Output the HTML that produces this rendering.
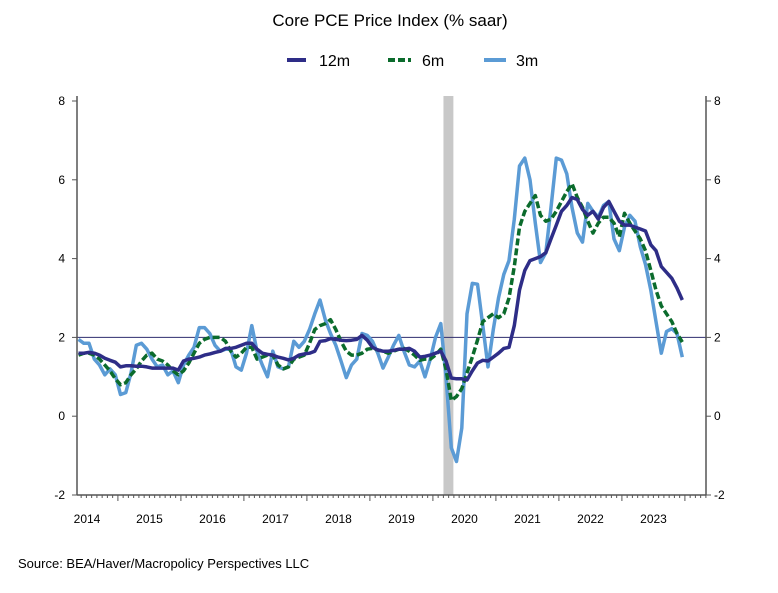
<!DOCTYPE html>
<html><head><meta charset="utf-8"><style>
body{margin:0;background:#fff;}
svg{display:block;font-family:"Liberation Sans",sans-serif;}
</style></head><body>
<svg id="c" width="778" height="593" viewBox="0 0 778 593">
<text x="390" y="26" text-anchor="middle" font-size="17" fill="#000">Core PCE Price Index (% saar)</text>
<g>
<g><line x1="287" y1="60" x2="306" y2="60" stroke="#2e2d87" stroke-width="4"/><text x="319" y="66" font-size="16">12m</text></g>
<g><line x1="388" y1="60" x2="411" y2="60" stroke="#0b6b2c" stroke-width="4" stroke-dasharray="7,3"/><text x="422" y="66" font-size="16">6m</text></g>
<g><line x1="484" y1="60" x2="506" y2="60" stroke="#5b9bd5" stroke-width="4"/><text x="516" y="66" font-size="16">3m</text></g>
</g>
<g id="plot"></g>
<text x="18" y="568" font-size="13" fill="#000">Source:  BEA/Haver/Macropolicy Perspectives LLC</text>
</svg>
<script>
const startMonth = 4; // months since Jan 2014 for first point (May 2014)
const yTicks = [-2, 0, 2, 4, 6, 8];
const years = ["2014","2015","2016","2017","2018","2019","2020","2021","2022","2023"];
const recession = [73.8, 75.5];
const s12 = [1.6,1.6,1.62,1.6,1.55,1.47,1.42,1.37,1.25,1.28,1.28,1.27,1.27,1.25,1.22,1.22,1.22,1.22,1.22,1.17,1.4,1.45,1.47,1.5,1.55,1.58,1.62,1.65,1.72,1.72,1.75,1.8,1.85,1.85,1.7,1.6,
1.57,1.55,1.5,1.47,1.43,1.47,1.55,1.58,1.6,1.65,1.9,1.92,1.97,1.95,1.93,1.92,1.93,1.95,2.05,1.93,1.75,1.68,1.65,1.65,1.67,1.7,1.7,1.72,1.65,1.5,1.52,1.55,1.6,1.65,
1.4,0.97,0.95,0.95,0.92,1.15,1.35,1.42,1.4,1.5,1.6,1.72,1.75,2.3,3.2,3.7,3.95,4.0,4.05,4.15,4.5,4.85,5.2,5.35,5.55,5.5,5.25,5.1,5.2,5.0,5.3,5.45,5.2,4.95,4.85,4.85,4.8,4.75,4.7,4.35,4.2,3.8,3.65,3.5,3.25,2.95];
const s6 = [1.55,1.6,1.6,1.55,1.45,1.3,1.15,0.95,0.8,0.85,1.05,1.2,1.4,1.55,1.6,1.45,1.4,1.3,1.15,1.05,1.15,1.35,1.6,1.85,1.95,2.0,2.0,2.0,1.9,1.65,1.5,1.6,1.75,1.75,1.45,1.5,
1.55,1.55,1.3,1.2,1.25,1.45,1.5,1.55,1.85,2.2,2.3,2.35,2.45,2.2,1.9,1.65,1.55,1.55,1.6,1.7,1.72,1.68,1.65,1.6,1.65,1.7,1.72,1.65,1.55,1.42,1.45,1.45,1.55,1.7,
1.2,0.4,0.5,0.7,1.1,1.5,1.93,2.4,2.5,2.6,2.5,2.6,3.0,3.8,4.8,5.2,5.4,5.6,5.1,4.95,5.0,5.2,5.45,5.7,5.9,5.55,5.3,4.95,4.65,4.9,5.05,5.05,4.9,4.55,5.15,4.9,4.7,4.5,4.2,3.7,3.2,2.8,2.6,2.4,2.1,1.88];
const s3 = [1.95,1.85,1.85,1.45,1.3,1.05,1.2,1.05,0.55,0.6,1.1,1.8,1.85,1.7,1.45,1.25,1.3,1.05,1.15,0.85,1.3,1.55,1.75,2.25,2.25,2.1,1.8,1.65,1.7,1.7,1.25,1.17,1.6,2.3,1.65,
1.3,1.0,1.65,1.25,1.2,1.25,1.9,1.75,1.9,2.2,2.6,2.95,2.45,2.1,1.8,1.4,0.98,1.3,1.45,2.1,2.05,1.9,1.6,1.22,1.5,1.8,2.05,1.65,1.3,1.25,1.4,1.0,1.45,2.0,2.35,
1.0,-0.8,-1.15,-0.3,2.6,3.37,3.35,2.3,1.25,2.2,3.0,3.6,3.95,5.0,6.35,6.55,6.0,4.9,3.9,4.15,5.3,6.55,6.5,6.15,5.3,4.65,4.42,5.4,5.2,5.05,5.35,5.45,4.5,4.2,4.8,5.1,4.95,4.3,3.85,3.2,2.4,1.6,2.15,2.22,2.1,1.5];

const NS="http://www.w3.org/2000/svg";
const plot=document.getElementById('plot');
const X0=57.5, MW=5.25, L=77, R=706, YT=101, YB=495, YMIN=-2, YMAX=8;
const xm=m=>X0+MW*m;
const y=v=>YB-(v-YMIN)/(YMAX-YMIN)*(YB-YT);
function el(tag,attrs){const e=document.createElementNS(NS,tag);for(const k in attrs)e.setAttribute(k,attrs[k]);plot.appendChild(e);return e;}

const rb=el('rect',{x:xm(recession[0])-1.5,y:96,width:xm(recession[1])-xm(recession[0])+1,height:YB-96,fill:'#c8c8c8'});



const ref=el('line',{x1:L,x2:R,y1:y(2),y2:y(2),stroke:'#2e2d6e','stroke-width':1});



const la=el('line',{x1:L,x2:L,y1:96,y2:YB,stroke:'#555','stroke-width':1.5});


const ra=el('line',{x1:R,x2:R,y1:96,y2:YB,stroke:'#555','stroke-width':1.5});


const ba=el('line',{x1:L,x2:R,y1:YB,y2:YB,stroke:'#555','stroke-width':1.5});



yTicks.forEach(v=>{
  el('line',{x1:L-5,x2:L,y1:y(v),y2:y(v),stroke:'#555'});
  el('line',{x1:R,x2:R+5,y1:y(v),y2:y(v),stroke:'#555'});
  const t1=el('text',{x:L-12,y:y(v)+4,'text-anchor':'end','font-size':12});
  t1.textContent=v;
  
  
  const t2=el('text',{x:R+8,y:y(v)+4,'font-size':12});
  t2.textContent=v;
  
  
});
for(let m=0;m<=124;m++){
  const x=xm(m)-2.6;
  if(x<L||x>R) continue;
  const major=m%12===0;
  el('line',{x1:x,x2:x,y1:YB,y2:YB+(major?6:3),stroke:'#555'});
}
const labelX=[87,149.5,212.5,275.5,338.5,401.5,464.5,527.5,590.5,653.5];
years.forEach((yr,i)=>{
  const t=el('text',{x:labelX[i],y:523,'text-anchor':'middle','font-size':12});
  t.textContent=yr;
  
  
});

function series(data,color,dash,name){
  const d=data.map((v,i)=>(i?'L':'M')+xm(startMonth+i).toFixed(1)+','+y(v).toFixed(1)).join(' ');
  const p=el('path',{d:d,fill:'none',stroke:color,'stroke-width':3.5,'stroke-linejoin':'round'});
  if(dash)p.setAttribute('stroke-dasharray',dash);
  
  
}
series(s3,'#5b9bd5',null,'series-3m');
series(s6,'#0b6b2c','7,3','series-6m');
series(s12,'#2e2d87',null,'series-12m');
</script>
</body></html>
